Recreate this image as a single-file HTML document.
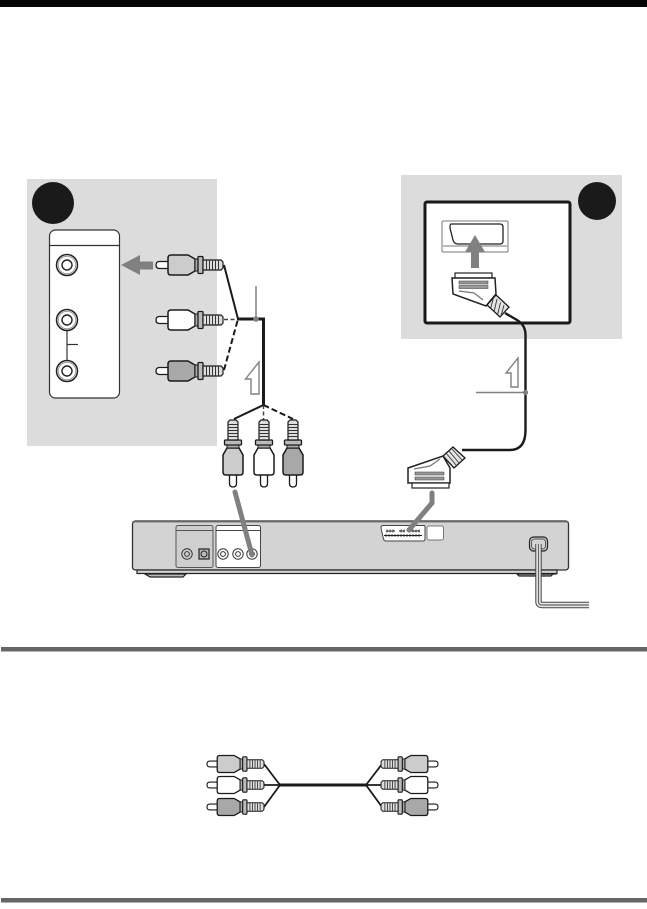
<!DOCTYPE html>
<html>
<head>
<meta charset="utf-8">
<style>
html,body{margin:0;padding:0;background:#fff;width:647px;height:909px;overflow:hidden}
svg{display:block}
</style>
</head>
<body>
<svg width="647" height="909" viewBox="0 0 647 909" xmlns="http://www.w3.org/2000/svg">
<defs>
<g id="plug">
  <path d="M13,-3.500H3.500Q0,-3.500 0,0Q0,3.500 3.500,3.500H13Z" style="fill:#fff" stroke="#1a1a1a" stroke-width="1.300"/>
  <path d="M12,-7Q12,-10 15,-10H32L39,-6V6L32,10H15Q12,10 12,7Z" stroke="#1a1a1a" stroke-width="1.500"/>
  <rect x="39" y="-6" width="3" height="12" style="fill:#aaa" stroke="#1a1a1a" stroke-width="1"/>
  <rect x="42" y="-8.500" width="5" height="17" rx="1" style="fill:#bbb" stroke="#1a1a1a" stroke-width="1.300"/>
  <path d="M47,-5H65L67,-3V3L65,5H47Z" style="fill:#ddd" stroke="#1a1a1a" stroke-width="1.200"/>
  <path d="M50.500,-5V5M53.500,-5V5M56.500,-5V5M59.500,-5V5M62.500,-5V5" stroke="#333" stroke-width="1" fill="none"/>
</g>
<g id="jack">
  <circle r="10.500" fill="#fff" stroke="#222" stroke-width="1.500"/>
  <circle r="8.800" fill="none" stroke="#999" stroke-width="1"/>
  <circle r="5" fill="#fff" stroke="#222" stroke-width="1.400"/>
</g>
<g id="sjack">
  <circle r="5.200" fill="none" stroke="#333" stroke-width="1"/>
  <circle r="2.400" fill="none" stroke="#333" stroke-width="1"/>
</g>
</defs>

<rect x="0" y="0" width="647" height="7" fill="#050505"/>
<rect x="1" y="647" width="646" height="4.500" fill="#666"/>
<rect x="1" y="898" width="646" height="4.500" fill="#666"/>

<rect x="27" y="179" width="190" height="267" fill="#dcdcdc"/>
<circle cx="53" cy="203" r="21" fill="#1a1a1a"/>
<rect x="49.500" y="230" width="70" height="168" rx="6" fill="#fff" stroke="#333" stroke-width="1.200"/>
<line x1="50" y1="245.500" x2="119" y2="245.500" stroke="#333" stroke-width="1.200"/>
<line x1="67" y1="325" x2="67" y2="366" stroke="#333" stroke-width="1.200"/>
<line x1="67" y1="344.500" x2="78" y2="344.500" stroke="#333" stroke-width="1.200"/>
<use href="#jack" x="67" y="265"/>
<use href="#jack" x="67" y="320"/>
<use href="#jack" x="67" y="371"/>
<polygon points="121,265 140,255 140,261.500 153,261.500 153,269.500 140,269.500 140,275" fill="#808080"/>

<path d="M224,265L238,319" stroke="#1a1a1a" stroke-width="2" fill="none"/>
<path d="M224,319.500H238" stroke="#444" stroke-width="1.500" stroke-dasharray="4 2.500" fill="none"/>
<path d="M224,370L238,319" stroke="#1a1a1a" stroke-width="2" stroke-dasharray="6 3" fill="none"/>
<path d="M237,319H263.500V405" stroke="#1a1a1a" stroke-width="3" fill="none"/>
<path d="M263.500,405L234,419" stroke="#1a1a1a" stroke-width="2" fill="none"/>
<path d="M263.500,405V420" stroke="#444" stroke-width="1.500" stroke-dasharray="4 2.500" fill="none"/>
<path d="M263.500,405L293,419" stroke="#1a1a1a" stroke-width="2" stroke-dasharray="6 3" fill="none"/>
<line x1="256" y1="286" x2="256" y2="319" stroke="#808080" stroke-width="1.500"/>
<circle cx="256" cy="319" r="2.800" fill="#808080"/>
<polygon points="259,362 245.500,379 251,379 251,394 259,394" fill="#fff" stroke="#808080" stroke-width="1.400"/>

<use href="#plug" transform="translate(156,265)" style="fill:#ccc"/>
<use href="#plug" transform="translate(156,320)" style="fill:#fff"/>
<use href="#plug" transform="translate(156,371)" style="fill:#a8a8a8"/>

<use href="#plug" transform="translate(233,487) rotate(-90)" style="fill:#ccc"/>
<use href="#plug" transform="translate(264,487) rotate(-90)" style="fill:#fff"/>
<use href="#plug" transform="translate(293,487) rotate(-90)" style="fill:#a8a8a8"/>

<rect x="401" y="175" width="221" height="164" fill="#dcdcdc"/>
<circle cx="597" cy="201" r="19" fill="#1a1a1a"/>
<rect x="425" y="202" width="145" height="121" rx="2" fill="#fff" stroke="#1a1a1a" stroke-width="3"/>
<rect x="442" y="221" width="66" height="31" rx="1.500" fill="#fff" stroke="#777" stroke-width="1"/>
<line x1="443" y1="246" x2="507" y2="246" stroke="#777" stroke-width="1"/>
<path d="M451,224H500Q503,224 503,227V241Q503,244 500,244H458Q454,244 453,240L450,228Q450,224 451,224Z" fill="#fff" stroke="#222" stroke-width="1.300"/>
<polygon points="475,235 485,252 479,252 479,268 471,268 471,252 465,252" fill="#808080"/>

<path d="M505,313L517,320Q525.500,325 525.500,335V430Q525.500,450 510,450H462" stroke="#1a1a1a" stroke-width="2.400" fill="none"/>
<line x1="476" y1="392.500" x2="525" y2="392.500" stroke="#808080" stroke-width="1.500"/>
<circle cx="525.500" cy="392.500" r="2.600" fill="#808080"/>
<polygon points="518,358 506,373 511,373 511,387 518,387" fill="#fff" stroke="#808080" stroke-width="1.400"/>

<rect x="455" y="273" width="37" height="5" fill="#fff" stroke="#222" stroke-width="1.200"/>
<path d="M452,278H495L496,294L486,306L453,294Z" fill="#fff" stroke="#222" stroke-width="1.500"/>
<rect x="459" y="281" width="29" height="3" fill="#999" stroke="#333" stroke-width=".5"/>
<rect x="459" y="285.500" width="29" height="3" fill="#999" stroke="#333" stroke-width=".5"/>
<path d="M459,291L474,293L483,300" stroke="#777" stroke-width="1.300" fill="none"/>
<polygon points="496,295 509,307 500,317 487,305" fill="#e4e4e4" stroke="#1a1a1a" stroke-width="1.300"/>
<path d="M493.500,297.500L490.500,309M497,299L494,312M500.500,302.500L497.500,315M504,305L501,316" stroke="#333" stroke-width=".9"/>

<polygon points="443,456 453,447 465,458 454,468" fill="#e4e4e4" stroke="#1a1a1a" stroke-width="1.300"/>
<path d="M446,453L456,465M449,451L459,463M452,449L462,460" stroke="#333" stroke-width=".9"/>
<path d="M408,468L443,456L450,468V483H408Z" fill="#fff" stroke="#222" stroke-width="1.500"/>
<rect x="412" y="483" width="37" height="5" fill="#fff" stroke="#222" stroke-width="1.200"/>
<rect x="415" y="472" width="29" height="3" fill="#999" stroke="#333" stroke-width=".5"/>
<rect x="415" y="477" width="29" height="3" fill="#999" stroke="#333" stroke-width=".5"/>
<path d="M414,469L430,466L440,459" stroke="#777" stroke-width="1.300" fill="none"/>

<path d="M145,574L150,577H183L186,574Z" fill="#bbb" stroke="#222" stroke-width="1.200"/>
<path d="M517,574L519,576H551L556,571V574Z" fill="#bbb" stroke="#222" stroke-width="1.200"/>
<rect x="132.500" y="521" width="436" height="49" rx="3" fill="#d3d3d3" stroke="#333" stroke-width="1.300"/>
<rect x="132.500" y="521" width="436" height="1.400" fill="#666"/>
<rect x="137" y="570" width="420" height="3.500" fill="#d3d3d3" stroke="#222" stroke-width="1.200"/>
<rect x="176" y="525.500" width="37" height="42" rx="2" fill="#cfcfcf" stroke="#555" stroke-width="1"/>
<line x1="176" y1="530.500" x2="213" y2="530.500" stroke="#555" stroke-width="1"/>
<rect x="216" y="525.500" width="44.500" height="42" rx="2" fill="#fff" stroke="#444" stroke-width="1"/>
<line x1="216" y1="530.500" x2="260" y2="530.500" stroke="#444" stroke-width="1"/>
<use href="#sjack" x="187" y="554"/>
<rect x="199" y="549" width="10" height="10" fill="#bbb" stroke="#222" stroke-width="1.200"/>
<circle cx="204" cy="554" r="3" fill="none" stroke="#222" stroke-width="1"/>
<use href="#sjack" x="223" y="554"/>
<use href="#sjack" x="238" y="554"/>
<use href="#sjack" x="252" y="554"/>
<path d="M383,525.500H424Q425,525.500 425,527V539Q425,541 423,541H386Q384,541 383.500,539L381,528Q381,525.500 383,525.500Z" fill="#fff" stroke="#444" stroke-width="1"/>
<path d="M386,531H395M399,531H405M408,531H420M384,535.500H422" stroke="#222" stroke-width="1"/>
<path d="M387,529.500V532.500M390,529.500V532.500M393,529.500V532.500M401,529.500V532.500M404,529.500V532.500M410,529.500V532.500M413,529.500V532.500M416,529.500V532.500M419,529.500V532.500M386,534V537M389,534V537M392,534V537M395,534V537M398,534V537M401,534V537M404,534V537M407,534V537M410,534V537M413,534V537M416,534V537M419,534V537" stroke="#222" stroke-width=".8"/>
<rect x="427" y="526" width="16.500" height="14" rx="2" fill="#fff" stroke="#777" stroke-width="1"/>
<line x1="235" y1="492" x2="252" y2="555" stroke="#808080" stroke-width="5" stroke-linecap="round"/>
<path d="M432,493V503L409,530" stroke="#808080" stroke-width="5" fill="none" stroke-linecap="round"/>
<rect x="529.500" y="537" width="18" height="14" rx="4" fill="#d3d3d3" stroke="#222" stroke-width="1.200"/>
<rect x="531.500" y="539" width="14" height="10" rx="3" fill="none" stroke="#555" stroke-width="1"/>
<path d="M538.500,544V602Q538.500,605 542,605H589" stroke="#444" stroke-width="6.400" fill="none"/>
<path d="M538.500,544V602Q538.500,605 542,605H589" stroke="#e8e8e8" stroke-width="4.400" fill="none"/>
<path d="M538.500,544V602Q538.500,605 542,605H589" stroke="#666" stroke-width="1.200" fill="none"/>

<path d="M264,764L280,785L264,807M264,785H280M382,764L366,785L382,807M382,785H366" stroke="#1a1a1a" stroke-width="1.800" fill="none"/>
<line x1="280" y1="785" x2="366" y2="785" stroke="#1a1a1a" stroke-width="3"/>
<use href="#plug" transform="translate(207,764) scale(.85)" style="fill:#ccc"/>
<use href="#plug" transform="translate(207,785) scale(.85)" style="fill:#fff"/>
<use href="#plug" transform="translate(207,807) scale(.85)" style="fill:#a8a8a8"/>
<use href="#plug" transform="translate(438,764) scale(-.85,.85)" style="fill:#ccc"/>
<use href="#plug" transform="translate(438,785) scale(-.85,.85)" style="fill:#fff"/>
<use href="#plug" transform="translate(438,807) scale(-.85,.85)" style="fill:#a8a8a8"/>
</svg>
</body>
</html>
